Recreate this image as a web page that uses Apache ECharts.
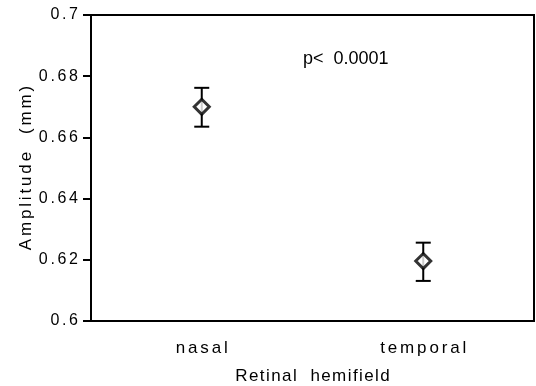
<!DOCTYPE html>
<html>
<head>
<meta charset="utf-8">
<script src="https://cdn.jsdelivr.net/npm/echarts@6/dist/echarts.min.js"></script>
<style>
  html, body { margin:0; padding:0; background:#fff; }
  #chart { width:536px; height:386px; }
</style>
</head>
<body>
<div id="chart"></div>
<script>
const categories = ['nasal', 'temporal'];
const means = [0.6700, 0.6196];
const upper = [0.6762, 0.6256];
const lower = [0.6635, 0.6131];
const yTicks = ['0.6', '0.62', '0.64', '0.66', '0.68', '0.7'];

const font = '"Liberation Sans", Arial, Helvetica, sans-serif';
// old-style figure text is loosely spaced
const spaced = (s, gap) => s.split('').join(gap || '\u200A');
const wide = '\u200A\u200A';

let myChart = echarts.init(document.getElementById('chart'));

let option = {
    animation:false,
    grid:{
        left:91,
        right:2,
        top:15,
        bottom:65,
        outerBoundsMode:'none',
        show:true,
        borderColor:'#000',
        borderWidth:2
    },
    xAxis:{
        type:'category',
        data:categories,
        name:spaced('Retinal  hemifield'),
        nameLocation:'middle',
        nameGap:47,
        nameMoveOverlap:false,
        nameTextStyle:{ color:'#000', fontSize:17, fontFamily:font },
        axisLine:{ lineStyle:{ color:'#000', width:2 } },
        axisTick:{ alignWithLabel:true, length:6, lineStyle:{ color:'#000', width:2 } },
        axisLabel:{
            color:'#000', fontSize:17, fontFamily:font, margin:19,
            formatter:v=>spaced(v, wide)
        },
        splitLine:{ show:false }
    },
    yAxis:{
        type:'value',
        min:0.6,
        max:0.7,
        interval:0.02,
        name:spaced('Amplitude  (mm)', wide),
        nameLocation:'middle',
        nameGap:56,
        nameMoveOverlap:false,
        nameTextStyle:{ color:'#000', fontSize:17, fontFamily:font },
        axisLine:{ show:true, lineStyle:{ color:'#000', width:2 } },
        axisTick:{ show:true, length:8, lineStyle:{ color:'#000', width:2 } },
        axisLabel:{
            color:'#000', fontSize:16, fontFamily:font, margin:13,
            formatter:(v)=>{
                let label = yTicks.find(t => Math.abs(parseFloat(t) - v) < 1e-6) || String(v);
                return spaced(label, wide);
            }
        },
        splitLine:{ show:false }
    },
    graphic:[
        {
            type:'text',
            left:303,
            top:50,
            style:{ text:'p<  0.0001', fill:'#000', font:'18px ' + font }
        }
    ],
    series:[
        {
            type:'custom',
            data:categories.map((c, i) => [i, lower[i], upper[i]]),
            renderItem:(params, api)=>{
                let lo = api.coord([api.value(0), api.value(1)]);
                let hi = api.coord([api.value(0), api.value(2)]);
                let half = 7.5;
                let style = { stroke:'#000', lineWidth:2 };
                return {
                    type:'group',
                    children:[
                        { type:'line', shape:{ x1:lo[0], y1:lo[1], x2:hi[0], y2:hi[1] }, style:style },
                        { type:'line', shape:{ x1:hi[0]-half, y1:hi[1], x2:hi[0]+half, y2:hi[1] }, style:style },
                        { type:'line', shape:{ x1:lo[0]-half, y1:lo[1], x2:lo[0]+half, y2:lo[1] }, style:style }
                    ]
                };
            },
            z:2
        },
        {
            type:'scatter',
            data:means,
            symbol:'diamond',
            symbolSize:[15, 15],
            itemStyle:{ color:'#fff', borderColor:'#000', borderWidth:3 },
            z:3
        }
    ]
};
myChart.setOption(option);
</script>
</body>
</html>
